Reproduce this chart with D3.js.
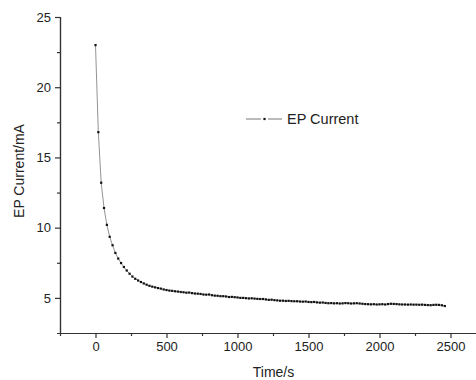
<!DOCTYPE html>
<html>
<head>
<meta charset="utf-8">
<script src="https://cdn.jsdelivr.net/npm/d3@7"></script>
<style>
  body { margin: 0; background: #fff; }
  text { font-family: "Liberation Sans", Arial, sans-serif; fill: #222; }
</style>
</head>
<body>
<div id="chart"></div>
<script>
const times = [0, 20, 40, 60, 80, 100, 120, 140, 160, 180, 200, 220, 240, 260, 280, 300, 320, 340, 360, 380,
  400, 420, 440, 460, 480, 500, 520, 540, 560, 580, 600, 620, 640, 660, 680, 700, 720, 740, 760, 780,
  800, 820, 840, 860, 880, 900, 920, 940, 960, 980, 1000, 1020, 1040, 1060, 1080, 1100, 1120, 1140, 1160, 1180,
  1200, 1220, 1240, 1260, 1280, 1300, 1320, 1340, 1360, 1380, 1400, 1420, 1440, 1460, 1480, 1500, 1520, 1540, 1560, 1580,
  1600, 1620, 1640, 1660, 1680, 1700, 1720, 1740, 1760, 1780, 1800, 1820, 1840, 1860, 1880, 1900, 1920, 1940, 1960, 1980,
  2000, 2020, 2040, 2060, 2080, 2100, 2120, 2140, 2160, 2180, 2200, 2220, 2240, 2260, 2280, 2300, 2320, 2340, 2360, 2380,
  2400, 2420, 2440, 2460]
const current = [23.0, 16.8, 13.2, 11.4, 10.2, 9.35, 8.75, 8.2, 7.8, 7.48, 7.2, 6.95, 6.72, 6.52, 6.36, 6.24, 6.13, 6.03, 5.94, 5.86,
  5.80, 5.75, 5.70, 5.66, 5.60, 5.56, 5.52, 5.50, 5.47, 5.45, 5.42, 5.40, 5.37, 5.38, 5.34, 5.31, 5.30, 5.28, 5.24, 5.23,
  5.24, 5.19, 5.16, 5.15, 5.12, 5.12, 5.10, 5.06, 5.07, 5.05, 5.03, 5.00, 5.00, 4.98, 4.96, 4.97, 4.95, 4.93, 4.92, 4.92,
  4.89, 4.86, 4.87, 4.84, 4.82, 4.80, 4.80, 4.78, 4.79, 4.77, 4.76, 4.76, 4.74, 4.73, 4.74, 4.71, 4.70, 4.71, 4.68, 4.66,
  4.67, 4.64, 4.62, 4.63, 4.61, 4.62, 4.60, 4.61, 4.63, 4.62, 4.60, 4.61, 4.62, 4.60, 4.58, 4.56, 4.55, 4.54, 4.55, 4.53,
  4.54, 4.55, 4.53, 4.56, 4.58, 4.57, 4.56, 4.54, 4.53, 4.53, 4.52, 4.53, 4.52, 4.52, 4.51, 4.52, 4.50, 4.49, 4.48, 4.50,
  4.51, 4.50, 4.47, 4.42]
const xTicks = [0, 500, 1000, 1500, 2000, 2500]
const yTicks = [5, 10, 15, 20, 25]
const seriesName = 'EP Current'

const W = 476, H = 380
const MARGIN = {TOP: 17, BOTTOM: 47, LEFT: 60, RIGHT: -10}
const WIDTH = W - MARGIN.LEFT - MARGIN.RIGHT
const HEIGHT = H - MARGIN.TOP - MARGIN.BOTTOM

const data = times.map((t, i) => ({t: t, v: current[i]}))

const root = d3.select('#chart').append('svg')
  .attr('width', W)
  .attr('height', H)

const svg = root.append('g')
  .attr('transform', `translate(${MARGIN.LEFT}, ${MARGIN.TOP})`)

const x = d3.scaleLinear().domain([-250, 2750]).range([0, WIDTH])
const y = d3.scaleLinear().domain([2.5, 25]).range([HEIGHT, 0])

// minor ticks first, then major axes on top
svg.append('g')
  .attr('transform', `translate(0, ${HEIGHT})`)
  .call(d3.axisBottom(x).tickValues([250, 750, 1250, 1750, 2250]).tickSize(3).tickFormat(''))
svg.append('g')
  .call(d3.axisLeft(y).tickValues([7.5, 12.5, 17.5, 22.5]).tickSize(3).tickFormat(''))

svg.append('g')
  .attr('transform', `translate(0, ${HEIGHT})`)
  .call(d3.axisBottom(x).tickValues(xTicks).tickFormat(d3.format('d')).tickSize(5).tickPadding(4).tickSizeOuter(0))
svg.append('g')
  .call(d3.axisLeft(y).tickValues(yTicks).tickFormat(d3.format('d')).tickSize(5).tickPadding(4).tickSizeOuter(0))

svg.selectAll('.domain, .tick line').attr('stroke', '#333').attr('stroke-width', 1.2)
svg.selectAll('.tick text').attr('font-size', 13).attr('fill', '#222')
  .attr('font-family', '"Liberation Sans", Arial, sans-serif')

// axis titles
svg.append('text')
  .attr('x', x(1000) + 36)
  .attr('y', HEIGHT + 44)
  .attr('text-anchor', 'middle')
  .attr('font-size', 14)
  .text('Time/s')

svg.append('text')
  .attr('x', -HEIGHT / 2 + 4)
  .attr('y', -36)
  .attr('text-anchor', 'middle')
  .attr('font-size', 14)
  .attr('transform', 'rotate(-90)')
  .text('EP Current/mA')

// series
const line = d3.line().x(d => x(d.t)).y(d => y(d.v))
svg.append('path')
  .datum(data)
  .attr('d', line)
  .attr('fill', 'none')
  .attr('stroke', '#777')
  .attr('stroke-width', 0.8)

svg.selectAll('rect.pt')
  .data(data)
  .enter().append('rect')
  .attr('class', 'pt')
  .attr('x', d => x(d.t) - 1.1)
  .attr('y', d => y(d.v) - 1.1)
  .attr('width', 2.2)
  .attr('height', 2.2)
  .attr('fill', '#111')

// legend
const lg = root.append('g').attr('transform', 'translate(246, 119)')
lg.append('line').attr('x1', 0).attr('x2', 15).attr('y1', 0).attr('y2', 0).attr('stroke', '#777')
lg.append('line').attr('x1', 22).attr('x2', 36).attr('y1', 0).attr('y2', 0).attr('stroke', '#777')
lg.append('rect').attr('x', 17.4).attr('y', -1.1).attr('width', 2.2).attr('height', 2.2).attr('fill', '#111')
lg.append('text').attr('x', 41).attr('y', 5).attr('font-size', 14.5).text(seriesName)
</script>
</body>
</html>
